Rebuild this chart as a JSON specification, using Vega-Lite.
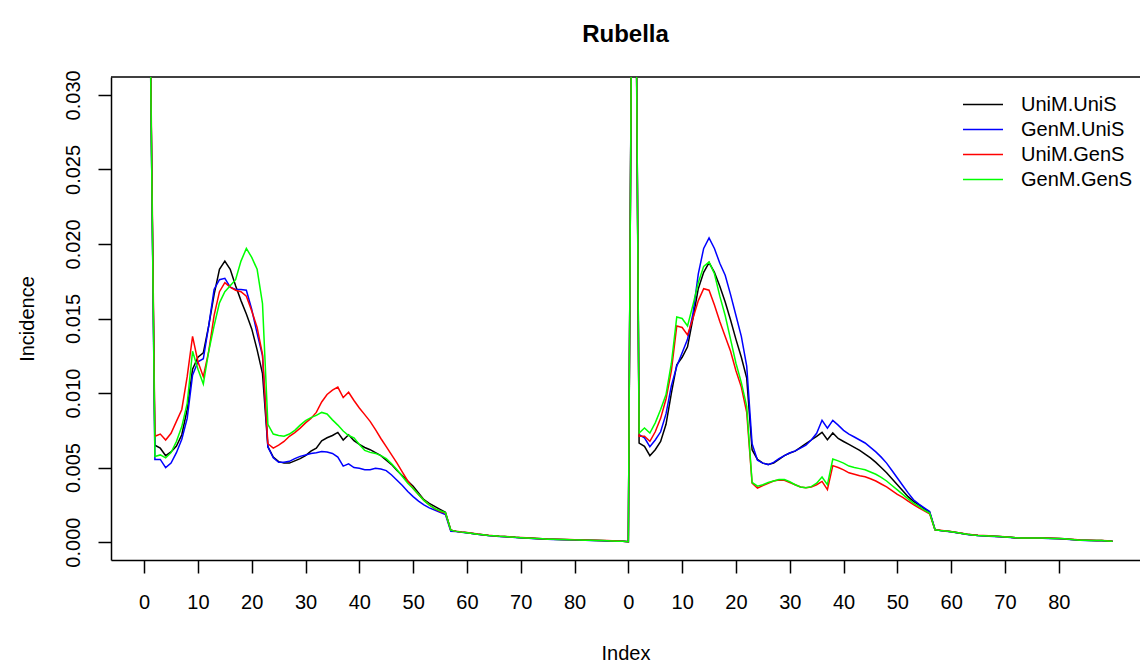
{
"$schema": "https://vega.github.io/schema/vega-lite/v6.json",
"width": 1029, "height": 483,
"autosize": "none",
"padding": {"left": 111, "top": 77, "right": 0, "bottom": 102},
"background": "white",
"config": {"view": {"stroke": null}, "font": "Liberation Sans"},
"title": {"text": "Rubella", "fontSize": 24, "fontWeight": "bold", "font": "Liberation Sans", "anchor": "middle", "baseline": "alphabetic", "offset": 4, "color": "black"},
"data": {"values": [
{"i":1,"uu":0.0380,"gu":0.0385,"ug":0.0390,"gg":0.0385},
{"i":2,"uu":0.00650,"gu":0.00555,"ug":0.00710,"gg":0.00575},
{"i":3,"uu":0.00630,"gu":0.00555,"ug":0.00725,"gg":0.00585},
{"i":4,"uu":0.00580,"gu":0.00500,"ug":0.00685,"gg":0.00565},
{"i":5,"uu":0.00605,"gu":0.00530,"ug":0.00730,"gg":0.00600},
{"i":6,"uu":0.00645,"gu":0.00600,"ug":0.00810,"gg":0.00675},
{"i":7,"uu":0.00720,"gu":0.00690,"ug":0.00890,"gg":0.00775},
{"i":8,"uu":0.00890,"gu":0.00830,"ug":0.01110,"gg":0.00930},
{"i":9,"uu":0.01160,"gu":0.01120,"ug":0.01380,"gg":0.01280},
{"i":10,"uu":0.01240,"gu":0.01210,"ug":0.01210,"gg":0.01160},
{"i":11,"uu":0.01270,"gu":0.01230,"ug":0.01110,"gg":0.01060},
{"i":12,"uu":0.01450,"gu":0.01450,"ug":0.01280,"gg":0.01280},
{"i":13,"uu":0.01660,"gu":0.01695,"ug":0.01520,"gg":0.01450},
{"i":14,"uu":0.01830,"gu":0.01760,"ug":0.01680,"gg":0.01605},
{"i":15,"uu":0.01885,"gu":0.01770,"ug":0.01740,"gg":0.01680},
{"i":16,"uu":0.01830,"gu":0.01710,"ug":0.01710,"gg":0.01720},
{"i":17,"uu":0.01720,"gu":0.01695,"ug":0.01690,"gg":0.01760},
{"i":18,"uu":0.01620,"gu":0.01695,"ug":0.01680,"gg":0.01885},
{"i":19,"uu":0.01530,"gu":0.01690,"ug":0.01650,"gg":0.01970},
{"i":20,"uu":0.01430,"gu":0.01560,"ug":0.01550,"gg":0.01910},
{"i":21,"uu":0.01290,"gu":0.01400,"ug":0.01440,"gg":0.01830},
{"i":22,"uu":0.01130,"gu":0.01250,"ug":0.01260,"gg":0.01600},
{"i":23,"uu":0.00640,"gu":0.00640,"ug":0.00660,"gg":0.00790},
{"i":24,"uu":0.00570,"gu":0.00565,"ug":0.00630,"gg":0.00725},
{"i":25,"uu":0.00540,"gu":0.00535,"ug":0.00650,"gg":0.00715},
{"i":26,"uu":0.00530,"gu":0.00535,"ug":0.00675,"gg":0.00710},
{"i":27,"uu":0.00530,"gu":0.00542,"ug":0.00710,"gg":0.00725},
{"i":28,"uu":0.00545,"gu":0.00560,"ug":0.00735,"gg":0.00750},
{"i":29,"uu":0.00560,"gu":0.00575,"ug":0.00765,"gg":0.00785},
{"i":30,"uu":0.00580,"gu":0.00585,"ug":0.00800,"gg":0.00815},
{"i":31,"uu":0.00610,"gu":0.00595,"ug":0.00830,"gg":0.00835},
{"i":32,"uu":0.00630,"gu":0.00600,"ug":0.00870,"gg":0.00850},
{"i":33,"uu":0.00680,"gu":0.00607,"ug":0.00940,"gg":0.00870},
{"i":34,"uu":0.00700,"gu":0.00605,"ug":0.00990,"gg":0.00860},
{"i":35,"uu":0.00715,"gu":0.00595,"ug":0.01020,"gg":0.00820},
{"i":36,"uu":0.00736,"gu":0.00570,"ug":0.01040,"gg":0.00785},
{"i":37,"uu":0.00685,"gu":0.00510,"ug":0.00970,"gg":0.00745},
{"i":38,"uu":0.00720,"gu":0.00525,"ug":0.01005,"gg":0.00715},
{"i":39,"uu":0.00680,"gu":0.00500,"ug":0.00950,"gg":0.00700},
{"i":40,"uu":0.00655,"gu":0.00495,"ug":0.00900,"gg":0.00655},
{"i":41,"uu":0.00635,"gu":0.00485,"ug":0.00855,"gg":0.00615},
{"i":42,"uu":0.00620,"gu":0.00485,"ug":0.00810,"gg":0.00602},
{"i":43,"uu":0.00600,"gu":0.00495,"ug":0.00755,"gg":0.00595},
{"i":44,"uu":0.00580,"gu":0.00490,"ug":0.00695,"gg":0.00580},
{"i":45,"uu":0.00550,"gu":0.00480,"ug":0.00640,"gg":0.00560},
{"i":46,"uu":0.00520,"gu":0.00450,"ug":0.00585,"gg":0.00525},
{"i":47,"uu":0.00480,"gu":0.00415,"ug":0.00530,"gg":0.00485},
{"i":48,"uu":0.00445,"gu":0.00380,"ug":0.00470,"gg":0.00440},
{"i":49,"uu":0.00410,"gu":0.00340,"ug":0.00410,"gg":0.00395},
{"i":50,"uu":0.00375,"gu":0.00305,"ug":0.00360,"gg":0.00360},
{"i":51,"uu":0.00330,"gu":0.00275,"ug":0.00320,"gg":0.00320},
{"i":52,"uu":0.00285,"gu":0.00250,"ug":0.00280,"gg":0.00280},
{"i":53,"uu":0.00260,"gu":0.00230,"ug":0.00250,"gg":0.00250},
{"i":54,"uu":0.00240,"gu":0.00215,"ug":0.00225,"gg":0.00225},
{"i":55,"uu":0.00220,"gu":0.00200,"ug":0.00205,"gg":0.00210},
{"i":56,"uu":0.00200,"gu":0.00185,"ug":0.00195,"gg":0.00198},
{"i":57,"uu":0.00080,"gu":0.00072,"ug":0.00080,"gg":0.00080},
{"i":58,"uu":0.00072,"gu":0.00071,"ug":0.00073,"gg":0.00072},
{"i":59,"uu":0.00067,"gu":0.00066,"ug":0.00068,"gg":0.00067},
{"i":60,"uu":0.00063,"gu":0.00062,"ug":0.00064,"gg":0.00063},
{"i":61,"uu":0.00058,"gu":0.00057,"ug":0.00059,"gg":0.00058},
{"i":62,"uu":0.00053,"gu":0.00052,"ug":0.00054,"gg":0.00053},
{"i":63,"uu":0.00049,"gu":0.00048,"ug":0.00050,"gg":0.00049},
{"i":64,"uu":0.00045,"gu":0.00044,"ug":0.00046,"gg":0.00045},
{"i":65,"uu":0.00042,"gu":0.00041,"ug":0.00043,"gg":0.00042},
{"i":66,"uu":0.00039,"gu":0.00038,"ug":0.00040,"gg":0.00039},
{"i":67,"uu":0.00037,"gu":0.00036,"ug":0.00038,"gg":0.00037},
{"i":68,"uu":0.00035,"gu":0.00034,"ug":0.00036,"gg":0.00035},
{"i":69,"uu":0.00032,"gu":0.00031,"ug":0.00033,"gg":0.00032},
{"i":70,"uu":0.00030,"gu":0.00029,"ug":0.00031,"gg":0.00030},
{"i":71,"uu":0.00028,"gu":0.00027,"ug":0.00029,"gg":0.00028},
{"i":72,"uu":0.00026,"gu":0.00025,"ug":0.00027,"gg":0.00026},
{"i":73,"uu":0.00024,"gu":0.00023,"ug":0.00025,"gg":0.00024},
{"i":74,"uu":0.00022,"gu":0.00021,"ug":0.00023,"gg":0.00022},
{"i":75,"uu":0.00020,"gu":0.00019,"ug":0.00021,"gg":0.00020},
{"i":76,"uu":0.00019,"gu":0.00018,"ug":0.00020,"gg":0.00019},
{"i":77,"uu":0.00018,"gu":0.00017,"ug":0.00019,"gg":0.00018},
{"i":78,"uu":0.00017,"gu":0.00016,"ug":0.00018,"gg":0.00017},
{"i":79,"uu":0.00016,"gu":0.00015,"ug":0.00017,"gg":0.00016},
{"i":80,"uu":0.00015,"gu":0.00014,"ug":0.00016,"gg":0.00015},
{"i":81,"uu":0.00014,"gu":0.00013,"ug":0.00015,"gg":0.00014},
{"i":82,"uu":0.00013,"gu":0.00012,"ug":0.00014,"gg":0.00013},
{"i":83,"uu":0.00012,"gu":0.00011,"ug":0.00013,"gg":0.00012},
{"i":84,"uu":0.00011,"gu":0.00010,"ug":0.00012,"gg":0.00011},
{"i":85,"uu":0.00010,"gu":0.00009,"ug":0.00011,"gg":0.00010},
{"i":86,"uu":0.00009,"gu":0.00008,"ug":0.00010,"gg":0.00009},
{"i":87,"uu":0.00008,"gu":0.00007,"ug":0.00009,"gg":0.00008},
{"i":88,"uu":0.00006,"gu":0.00006,"ug":0.00007,"gg":0.00006},
{"i":89,"uu":0.00005,"gu":0.00005,"ug":0.00005,"gg":0.00005},
{"i":90,"uu":0.00003,"gu":0.00003,"ug":0.00003,"gg":0.00003},
{"i":91,"uu":0.0595,"gu":0.0605,"ug":0.0600,"gg":0.0600},
{"i":92,"uu":0.00664,"gu":0.00720,"ug":0.00710,"gg":0.00732},
{"i":93,"uu":0.00642,"gu":0.00700,"ug":0.00710,"gg":0.00765},
{"i":94,"uu":0.00580,"gu":0.00640,"ug":0.00676,"gg":0.00732},
{"i":95,"uu":0.00620,"gu":0.00685,"ug":0.00740,"gg":0.00800},
{"i":96,"uu":0.00675,"gu":0.00740,"ug":0.00830,"gg":0.00890},
{"i":97,"uu":0.00790,"gu":0.00860,"ug":0.00960,"gg":0.00990},
{"i":98,"uu":0.01000,"gu":0.01050,"ug":0.01150,"gg":0.01200},
{"i":99,"uu":0.01190,"gu":0.01180,"ug":0.01450,"gg":0.01510},
{"i":100,"uu":0.01240,"gu":0.01270,"ug":0.01440,"gg":0.01500},
{"i":101,"uu":0.01310,"gu":0.01360,"ug":0.01390,"gg":0.01450},
{"i":102,"uu":0.01500,"gu":0.01530,"ug":0.01500,"gg":0.01590},
{"i":103,"uu":0.01700,"gu":0.01800,"ug":0.01620,"gg":0.01740},
{"i":104,"uu":0.01810,"gu":0.01970,"ug":0.01700,"gg":0.01850},
{"i":105,"uu":0.01875,"gu":0.02040,"ug":0.01690,"gg":0.01880},
{"i":106,"uu":0.01810,"gu":0.01970,"ug":0.01590,"gg":0.01800},
{"i":107,"uu":0.01716,"gu":0.01870,"ug":0.01480,"gg":0.01650},
{"i":108,"uu":0.01610,"gu":0.01790,"ug":0.01380,"gg":0.01520},
{"i":109,"uu":0.01490,"gu":0.01660,"ug":0.01280,"gg":0.01360},
{"i":110,"uu":0.01360,"gu":0.01520,"ug":0.01150,"gg":0.01200},
{"i":111,"uu":0.01240,"gu":0.01380,"ug":0.01040,"gg":0.01070},
{"i":112,"uu":0.01100,"gu":0.01180,"ug":0.00870,"gg":0.00910},
{"i":113,"uu":0.00620,"gu":0.00660,"ug":0.00395,"gg":0.00400},
{"i":114,"uu":0.00555,"gu":0.00550,"ug":0.00362,"gg":0.00375},
{"i":115,"uu":0.00530,"gu":0.00530,"ug":0.00380,"gg":0.00385},
{"i":116,"uu":0.00520,"gu":0.00520,"ug":0.00395,"gg":0.00400},
{"i":117,"uu":0.00530,"gu":0.00535,"ug":0.00410,"gg":0.00410},
{"i":118,"uu":0.00555,"gu":0.00560,"ug":0.00417,"gg":0.00420},
{"i":119,"uu":0.00580,"gu":0.00580,"ug":0.00415,"gg":0.00420},
{"i":120,"uu":0.00598,"gu":0.00598,"ug":0.00400,"gg":0.00405},
{"i":121,"uu":0.00610,"gu":0.00612,"ug":0.00385,"gg":0.00385},
{"i":122,"uu":0.00635,"gu":0.00630,"ug":0.00370,"gg":0.00370},
{"i":123,"uu":0.00660,"gu":0.00650,"ug":0.00365,"gg":0.00365},
{"i":124,"uu":0.00685,"gu":0.00685,"ug":0.00370,"gg":0.00372},
{"i":125,"uu":0.00710,"gu":0.00730,"ug":0.00385,"gg":0.00395},
{"i":126,"uu":0.00736,"gu":0.00817,"ug":0.00407,"gg":0.00437},
{"i":127,"uu":0.00687,"gu":0.00765,"ug":0.00352,"gg":0.00385},
{"i":128,"uu":0.00732,"gu":0.00817,"ug":0.00513,"gg":0.00557},
{"i":129,"uu":0.00695,"gu":0.00785,"ug":0.00500,"gg":0.00545},
{"i":130,"uu":0.00675,"gu":0.00750,"ug":0.00485,"gg":0.00530},
{"i":131,"uu":0.00655,"gu":0.00725,"ug":0.00465,"gg":0.00510},
{"i":132,"uu":0.00635,"gu":0.00705,"ug":0.00455,"gg":0.00500},
{"i":133,"uu":0.00615,"gu":0.00685,"ug":0.00445,"gg":0.00493},
{"i":134,"uu":0.00590,"gu":0.00665,"ug":0.00438,"gg":0.00485},
{"i":135,"uu":0.00565,"gu":0.00635,"ug":0.00425,"gg":0.00470},
{"i":136,"uu":0.00535,"gu":0.00605,"ug":0.00410,"gg":0.00455},
{"i":137,"uu":0.00500,"gu":0.00570,"ug":0.00390,"gg":0.00435},
{"i":138,"uu":0.00465,"gu":0.00530,"ug":0.00370,"gg":0.00410},
{"i":139,"uu":0.00425,"gu":0.00480,"ug":0.00345,"gg":0.00380},
{"i":140,"uu":0.00385,"gu":0.00430,"ug":0.00320,"gg":0.00350},
{"i":141,"uu":0.00345,"gu":0.00380,"ug":0.00300,"gg":0.00320},
{"i":142,"uu":0.00305,"gu":0.00330,"ug":0.00275,"gg":0.00290},
{"i":143,"uu":0.00273,"gu":0.00284,"ug":0.00251,"gg":0.00262},
{"i":144,"uu":0.00250,"gu":0.00255,"ug":0.00230,"gg":0.00240},
{"i":145,"uu":0.00225,"gu":0.00230,"ug":0.00210,"gg":0.00215},
{"i":146,"uu":0.00200,"gu":0.00205,"ug":0.00190,"gg":0.00195},
{"i":147,"uu":0.00083,"gu":0.00085,"ug":0.00083,"gg":0.00083},
{"i":148,"uu":0.00078,"gu":0.00077,"ug":0.00079,"gg":0.00078},
{"i":149,"uu":0.00074,"gu":0.00073,"ug":0.00075,"gg":0.00074},
{"i":150,"uu":0.00070,"gu":0.00069,"ug":0.00071,"gg":0.00070},
{"i":151,"uu":0.00064,"gu":0.00063,"ug":0.00065,"gg":0.00064},
{"i":152,"uu":0.00058,"gu":0.00057,"ug":0.00059,"gg":0.00058},
{"i":153,"uu":0.00052,"gu":0.00051,"ug":0.00053,"gg":0.00052},
{"i":154,"uu":0.00048,"gu":0.00047,"ug":0.00049,"gg":0.00048},
{"i":155,"uu":0.00045,"gu":0.00044,"ug":0.00046,"gg":0.00045},
{"i":156,"uu":0.00043,"gu":0.00042,"ug":0.00044,"gg":0.00043},
{"i":157,"uu":0.00041,"gu":0.00040,"ug":0.00042,"gg":0.00041},
{"i":158,"uu":0.00039,"gu":0.00038,"ug":0.00040,"gg":0.00039},
{"i":159,"uu":0.00037,"gu":0.00036,"ug":0.00038,"gg":0.00037},
{"i":160,"uu":0.00035,"gu":0.00034,"ug":0.00036,"gg":0.00035},
{"i":161,"uu":0.00032,"gu":0.00031,"ug":0.00033,"gg":0.00032},
{"i":162,"uu":0.00029,"gu":0.00028,"ug":0.00030,"gg":0.00029},
{"i":163,"uu":0.00027,"gu":0.00026,"ug":0.00028,"gg":0.00027},
{"i":164,"uu":0.00027,"gu":0.00026,"ug":0.00028,"gg":0.00027},
{"i":165,"uu":0.00027,"gu":0.00026,"ug":0.00028,"gg":0.00027},
{"i":166,"uu":0.00027,"gu":0.00026,"ug":0.00028,"gg":0.00027},
{"i":167,"uu":0.00027,"gu":0.00026,"ug":0.00028,"gg":0.00027},
{"i":168,"uu":0.00026,"gu":0.00025,"ug":0.00027,"gg":0.00026},
{"i":169,"uu":0.00025,"gu":0.00024,"ug":0.00026,"gg":0.00025},
{"i":170,"uu":0.00024,"gu":0.00023,"ug":0.00025,"gg":0.00024},
{"i":171,"uu":0.00022,"gu":0.00021,"ug":0.00023,"gg":0.00022},
{"i":172,"uu":0.00019,"gu":0.00018,"ug":0.00020,"gg":0.00019},
{"i":173,"uu":0.00016,"gu":0.00015,"ug":0.00017,"gg":0.00016},
{"i":174,"uu":0.00013,"gu":0.00012,"ug":0.00014,"gg":0.00013},
{"i":175,"uu":0.00012,"gu":0.00011,"ug":0.00013,"gg":0.00012},
{"i":176,"uu":0.00011,"gu":0.00010,"ug":0.00012,"gg":0.00011},
{"i":177,"uu":0.00010,"gu":0.00009,"ug":0.00011,"gg":0.00010},
{"i":178,"uu":0.00010,"gu":0.00009,"ug":0.00011,"gg":0.00010},
{"i":179,"uu":0.00008,"gu":0.00007,"ug":0.00009,"gg":0.00008},
{"i":180,"uu":0.00005,"gu":0.00005,"ug":0.00005,"gg":0.00005}
]},
"layer": [
{
 "data": {"values": [{"k": 1}]},
 "mark": {"type": "rule", "color": "black", "strokeWidth": 1.5},
 "encoding": {"y": {"datum": 0.0312, "type": "quantitative"}}
},
{
 "mark": {"type": "line", "strokeWidth": 1.5, "clip": true},
 "encoding": {
  "x": {"field": "i", "type": "quantitative",
   "scale": {"domain": [-6.16, 185.1], "nice": false, "zero": false},
   "axis": {"values": [0,10,20,30,40,50,60,70,80,90,100,110,120,130,140,150,160,170],
    "labelExpr": "datum.value < 85 ? datum.value : datum.value - 90",
    "title": "Index", "grid": false, "tickSize": 13, "tickWidth": 1.5, "tickColor": "black",
    "domainColor": "black", "domainWidth": 1.5, "labelFontSize": 20, "labelColor": "black",
    "labelFont": "Liberation Sans", "labelPadding": 19, "labelBaseline": "top", "labelAlign": "center",
    "labelFlush": false, "labelOverlap": false,
    "titleFontSize": 20, "titleFontWeight": "normal", "titleColor": "black", "titleFont": "Liberation Sans",
    "titleBaseline": "alphabetic", "titleY": 99}},
  "y": {"field": "uu", "type": "quantitative",
   "scale": {"domain": [-0.0012, 0.0312], "nice": false, "zero": false},
   "axis": {"values": [0,0.005,0.01,0.015,0.02,0.025,0.03], "format": ".3f",
    "labelAngle": -90, "labelAlign": "center", "labelBaseline": "alphabetic", "labelPadding": 19,
    "title": "Incidence", "grid": false, "tickSize": 13, "tickWidth": 1.5, "tickColor": "black",
    "domainColor": "black", "domainWidth": 1.5, "labelFontSize": 20, "labelColor": "black",
    "labelFont": "Liberation Sans", "labelFlush": false, "labelOverlap": false,
    "titleFontSize": 20, "titleFontWeight": "normal", "titleColor": "black", "titleFont": "Liberation Sans",
    "titleAngle": -90, "titleBaseline": "middle", "titleX": -84}},
  "color": {"datum": "UniM.UniS", "type": "nominal",
   "scale": {"domain": ["UniM.UniS","GenM.UniS","UniM.GenS","GenM.GenS"], "range": ["#000000","#0000FF","#FF0000","#00FF00"]},
   "legend": {"orient": "none", "legendX": 851, "legendY": 15, "title": null, "symbolType": "stroke",
    "symbolSize": 1600, "symbolStrokeWidth": 1.5, "labelFontSize": 20, "labelFont": "Liberation Sans",
    "labelColor": "black", "labelOffset": 17, "clipHeight": 25, "rowPadding": 0, "padding": 0, "labelLimit": 400}}
 }
},
{
 "mark": {"type": "line", "strokeWidth": 1.5, "clip": true},
 "encoding": {
  "x": {"field": "i", "type": "quantitative"},
  "y": {"field": "gu", "type": "quantitative"},
  "color": {"datum": "GenM.UniS", "type": "nominal"}
 }
},
{
 "mark": {"type": "line", "strokeWidth": 1.5, "clip": true},
 "encoding": {
  "x": {"field": "i", "type": "quantitative"},
  "y": {"field": "ug", "type": "quantitative"},
  "color": {"datum": "UniM.GenS", "type": "nominal"}
 }
},
{
 "mark": {"type": "line", "strokeWidth": 1.5, "clip": true},
 "encoding": {
  "x": {"field": "i", "type": "quantitative"},
  "y": {"field": "gg", "type": "quantitative"},
  "color": {"datum": "GenM.GenS", "type": "nominal"}
 }
}
]
}
